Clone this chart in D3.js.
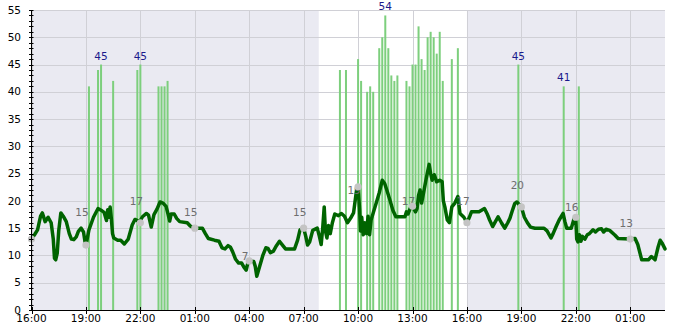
<!DOCTYPE html>
<html><head><meta charset="utf-8">
<script src="https://cdn.jsdelivr.net/npm/d3@7"></script>
<style>
body{margin:0;background:#fff}
svg{display:block}
text{font-family:"DejaVu Sans",sans-serif}
</style>
</head><body>
<svg id="chart" width="685" height="330"></svg>
<script>
// ---------- data ----------
const xTickLabels = ["16:00","19:00","22:00","01:00","04:00","07:00","10:00","13:00","16:00","19:00","22:00","01:00"];
const yTickValues = [0,5,10,15,20,25,30,35,40,45,50,55];
const domainEnd = "02:55";
const daylight = ["07:50","16:00"];

const lineTimes = ["16:00","16:10","16:20","16:30","16:36","16:45","16:55","17:05","17:12","17:16","17:20","17:25","17:30","17:37","17:45","17:55","18:05","18:12","18:20","18:28","18:35","18:44","18:52","18:57","19:00","19:04","19:10","19:25","19:40","19:50","20:00","20:08","20:12","20:16","20:20","20:24","20:28","20:32","20:45","20:55","21:07","21:20","21:33","21:42","21:58","22:07","22:20","22:27","22:36","22:45","22:55","23:05","23:15","23:25","23:32","23:37","23:42","23:52","00:00","00:10","00:35","00:45","00:58","01:25","01:35","01:45","02:05","02:20","02:30","02:40","02:50","02:58","03:05","03:15","03:25","03:35","03:42","03:50","03:55","04:00","04:15","04:20","04:25","04:32","04:45","04:55","05:02","05:10","05:20","05:30","05:40","05:50","06:00","06:30","06:40","06:48","07:00","07:07","07:13","07:20","07:30","07:45","07:52","07:58","08:03","08:08","08:12","08:17","08:22","08:28","08:35","08:43","08:55","09:05","09:15","09:25","09:35","09:45","09:55","10:00","10:05","10:08","10:12","10:17","10:22","10:28","10:33","10:38","10:43","10:50","11:00","11:10","11:20","11:28","11:35","11:45","11:55","12:05","12:35","12:40","12:45","12:52","13:00","13:10","13:15","13:20","13:25","13:30","13:35","13:45","13:55","14:00","14:05","14:12","14:20","14:30","14:38","14:42","14:47","14:55","15:02","15:10","15:20","15:30","15:37","15:50","16:00","16:08","16:15","16:40","16:58","17:08","17:15","17:25","17:35","17:43","17:55","18:05","18:15","18:22","18:30","18:38","18:45","18:55","19:00","19:10","19:20","19:30","19:45","20:15","20:25","20:38","20:45","20:55","21:05","21:18","21:24","21:30","21:45","21:53","21:57","22:00","22:03","22:07","22:12","22:17","22:22","22:30","22:38","22:45","22:57","23:05","23:15","23:25","23:32","23:40","23:52","00:09","00:20","00:59","01:16","01:25","01:38","02:00","02:10","02:22","02:32","02:39","02:45","02:55"];
const lineValues = [13.0,13.8,14.7,17.2,17.8,16.2,17.0,16.0,13.0,9.5,9.2,10.4,14.5,17.8,17.2,16.2,14.0,13.0,12.9,13.4,14.4,15.0,14.3,12.5,12.0,13.0,14.7,17.0,18.6,18.3,17.9,16.4,18.4,17.0,18.9,16.8,14.0,13.2,12.8,12.8,12.1,13.0,15.6,16.6,16.2,17.1,17.7,17.4,15.2,17.5,18.5,19.8,19.6,19.0,17.5,16.3,17.6,17.6,16.8,16.2,16.0,15.4,15.0,15.0,14.0,13.1,12.8,12.6,11.4,11.2,11.8,11.5,10.7,9.3,8.6,8.6,7.9,7.3,8.5,9.0,8.9,8.0,6.2,7.5,10.0,11.4,11.3,10.5,10.8,11.8,12.6,11.9,11.2,11.2,12.8,14.7,15.0,13.5,11.9,12.5,14.6,15.0,13.5,12.0,15.0,18.9,14.5,13.2,15.5,14.0,16.0,17.6,17.3,17.7,17.2,16.0,16.8,17.8,22.0,22.6,18.5,14.5,17.0,13.8,16.0,14.0,17.2,13.8,16.5,17.8,19.6,21.5,23.8,23.2,22.0,20.2,18.3,17.1,17.1,18.0,17.6,18.6,19.0,18.0,18.6,21.0,22.0,19.6,21.0,24.0,26.7,25.0,23.8,24.8,23.5,23.8,23.5,20.0,18.9,16.5,16.0,18.9,19.6,20.8,17.7,17.0,16.0,17.0,18.0,18.0,18.6,17.5,16.5,15.3,16.3,17.1,15.9,15.0,16.0,16.8,18.2,19.5,19.8,19.2,18.9,17.0,16.0,15.2,15.0,15.0,14.5,13.2,14.0,15.3,16.5,17.7,16.2,15.0,15.0,16.5,17.0,16.8,13.0,12.5,13.8,12.6,13.5,13.0,13.8,14.0,14.7,14.3,14.8,14.9,14.3,14.8,14.6,13.75,13.1,13.0,13.1,12.0,9.2,9.2,9.8,9.2,11.5,12.8,12.3,11.2];

const barTimes = ["19:10","19:40","19:50","20:30","21:50","22:00","23:00","23:10","23:20","23:30","09:00","09:20","10:00","10:10","10:30","10:40","10:50","11:10","11:20","11:30","11:40","11:50","12:00","12:10","12:40","12:50","13:00","13:10","13:20","13:30","13:40","13:50","14:00","14:10","14:20","14:30","14:40","15:10","15:30","18:50","21:20","22:10"];
const barValues = [41,44,45,42,44,45,41,41,41,42,44,44,46,42,40,41,40,48,50,54,48,43,42,43,42,41,45,45,52,46,44,50,51,50,47,51,42,46,48,45,41,41];
const peakBarTimes = ["19:50","22:00","11:30","18:50","21:20"];

const markerTimes = ["16:00","19:00","22:00","01:00","04:00","07:00","10:00","13:00","16:00","19:00","22:00","01:00"];
const markerValues = [13.0,11.9,16.0,15.0,9.0,15.0,22.6,19.0,16.0,18.9,17.0,13.0];
const markerLabels = ["",15,17,15,7,15,19,17,17,20,16,13];

// ---------- helpers ----------
// converts chronological "HH:MM" list to hours after the first 16:00
function toHours(list){
  let day = 0, prev = -1;
  return list.map(s => {
    const [h, m] = s.split(":").map(Number);
    const mins = h * 60 + m;
    if (prev >= 0 && mins < prev) day++;
    prev = mins;
    return day*24 + mins/60 - 16;
  });
}
const lineH = toHours(lineTimes);
const barH = toHours(barTimes);
const markerH = toHours(markerTimes);
const tickH = toHours(xTickLabels);
const endH = toHours([...xTickLabels, domainEnd]).pop();
const dayH = toHours(["16:00", ...daylight]).slice(1);
const peakIdx = (() => { const out=[]; let i=0; peakBarTimes.forEach(t => { while (i < barTimes.length && barTimes[i] !== t) i++; out.push(i); i++; }); return out; })();

// ---------- chart ----------
const L = 31.5, R = 665, T = 10, B = 310;
const svg = d3.select("#chart");
const x = d3.scaleLinear().domain([0, endH]).range([L, R]);
const y = d3.scaleLinear().domain([0, 55]).range([B, T]);

svg.append("rect").attr("x", L).attr("y", T).attr("width", R-L).attr("height", B-T).attr("fill", "#eaeaf2");
svg.append("rect").attr("x", x(dayH[0])).attr("y", T).attr("width", x(dayH[1]) - x(dayH[0])).attr("height", B-T).attr("fill", "#ffffff");

// grid
svg.append("g").selectAll("line").data(yTickValues).join("line")
  .attr("x1", L).attr("x2", R).attr("y1", d => Math.round(y(d))+0.5).attr("y2", d => Math.round(y(d))+0.5)
  .attr("stroke", "#d0d0d6").attr("stroke-width", 1);
svg.append("g").selectAll("line").data(tickH).join("line")
  .attr("x1", d => Math.round(x(d))+0.5).attr("x2", d => Math.round(x(d))+0.5).attr("y1", T).attr("y2", B)
  .attr("stroke", "#d0d0d6").attr("stroke-width", 1);

// bars
const bw = 2;
svg.append("g").selectAll("rect").data(barValues).join("rect")
  .attr("x", (d,i) => x(barH[i]) - bw/2).attr("width", bw)
  .attr("y", d => y(d)).attr("height", d => B - y(d))
  .attr("fill", "#7dcf7d");

// line
const line = d3.line().x((d,i) => x(lineH[i])).y(d => y(d));
svg.append("path").datum(lineValues).attr("d", line)
  .attr("fill", "none").attr("stroke", "#006400").attr("stroke-width", 3.5)
  .attr("stroke-linejoin", "round").attr("stroke-linecap", "round");

// marker labels then dots
svg.append("g").selectAll("text").data(markerLabels).join("text")
  .attr("x", (d,i) => x(markerH[i]) - 4).attr("y", (d,i) => y(+d) - 12)
  .attr("text-anchor", "middle").attr("font-size", 10.5).attr("fill", "#6e6e6e")
  .text(d => d);
svg.append("g").selectAll("circle").data(markerValues).join("circle")
  .attr("cx", (d,i) => x(markerH[i])).attr("cy", d => y(d)).attr("r", 3.6)
  .attr("fill", "#c4c4c4");

// peak labels
svg.append("g").selectAll("text").data(peakIdx).join("text")
  .attr("x", i => x(barH[i])).attr("y", i => y(barValues[i]) - 5)
  .attr("text-anchor", "middle").attr("font-size", 10.5).attr("fill", "#1a1a8c")
  .text(i => barValues[i]);

// axes
const yAxis = svg.append("g");
yAxis.append("line").attr("x1", L).attr("x2", L).attr("y1", T).attr("y2", B).attr("stroke", "#000");
yAxis.selectAll("line.minor").data(d3.range(0, 56)).join("line").attr("class","minor")
  .attr("x1", L-2.5).attr("x2", L+2).attr("y1", d => Math.round(y(d))+0.5).attr("y2", d => Math.round(y(d))+0.5)
  .attr("stroke", "#000");
yAxis.selectAll("text").data(yTickValues).join("text")
  .attr("x", 21).attr("y", d => y(d)).attr("dy", "0.35em").attr("text-anchor", "end")
  .attr("font-size", 10.5).attr("fill", "#000").text(d => d);

const xAxis = svg.append("g");
xAxis.append("line").attr("x1", L).attr("x2", R).attr("y1", B+0.5).attr("y2", B+0.5).attr("stroke", "#000");
xAxis.selectAll("line.t").data(tickH).join("line").attr("class","t")
  .attr("x1", d => Math.round(x(d))+0.5).attr("x2", d => Math.round(x(d))+0.5).attr("y1", B-3).attr("y2", B+4)
  .attr("stroke", "#000");
xAxis.selectAll("text").data(xTickLabels).join("text")
  .attr("x", (d,i) => x(tickH[i])).attr("y", 322).attr("text-anchor", "middle")
  .attr("font-size", 10.5).attr("fill", "#000").text(d => d);
</script>
</body></html>
